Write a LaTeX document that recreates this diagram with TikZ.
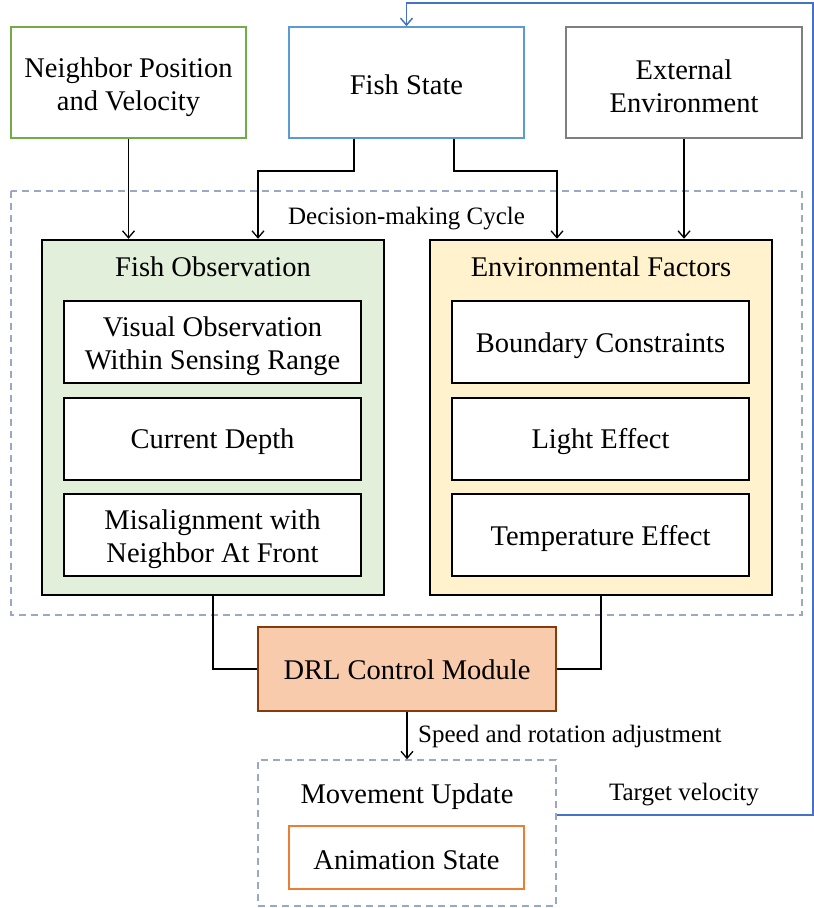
\documentclass[tikz,border=0pt]{standalone}
\usepackage{fontspec}
\setmainfont{Liberation Serif}
\newfontfamily\tnr{Liberation Serif}
\usetikzlibrary{arrows.meta}
\definecolor{cgreen}{HTML}{70AD47}
\definecolor{cblue}{HTML}{5B9BD5}
\definecolor{cline}{HTML}{4472C4}
\definecolor{cgray}{HTML}{7F7F7F}
\definecolor{fgreen}{HTML}{E2EFDA}
\definecolor{fyellow}{HTML}{FFF2CC}
\definecolor{fdrl}{HTML}{F8CBAD}
\definecolor{cdrl}{HTML}{843C0C}
\definecolor{corange}{HTML}{ED7D31}
\definecolor{cdash}{HTML}{9AA8C4}
\tikzset{
  big/.style={font=\tnr\fontsize{28.5}{33}\selectfont, align=center, inner sep=0pt},
  small/.style={font=\tnr\fontsize{25}{30}\selectfont, inner sep=0pt},
  topbox/.style={draw, line width=1.5pt, minimum width=235pt, minimum height=111pt, inner sep=0pt},
  groupbox/.style={draw=black, line width=2.5pt, minimum width=342pt, minimum height=355pt, inner sep=0pt},
  itembox/.style={draw=black, line width=2pt, fill=white, minimum width=297pt, minimum height=82pt, inner sep=0pt},
  dashbox/.style={draw=cdash, line width=1.5pt, dash pattern=on 7pt off 5pt},
  conn/.style={line width=1.3pt, -{Straight Barb[length=7pt,width=12pt]}},
  plain/.style={line width=1.3pt},
}
\begin{document}
\begin{tikzpicture}[x=1pt,y=-1pt]
\useasboundingbox (0,0) rectangle (814,908);
% top boxes
\node[topbox, draw=cgreen] (nb) at (128.5,82.5) {};
\node[big] (nbT) at ([yshift=-5pt]nb.center) {Neighbor Position\\and Velocity};
\node[topbox, draw=cblue] (fs) at (406.5,82.5) {};
\node[big] (fsT) at ([yshift=-2pt]fs.center) {Fish State};
\node[topbox, draw=cgray, minimum width=236pt] (ext) at (684,82.5) {};
\node[big] (extT) at ([yshift=-4pt]ext.center) {External\\Environment};
% decision cycle
\draw[dashbox] (11,191) rectangle (802,615);
\node[small] (dmc) at (406.5,219) {Decision-making Cycle};
% groups
\node[groupbox, fill=fgreen] (fo) at (213,417.5) {};
\node[groupbox, fill=fyellow] (ef) at (601,417.5) {};
\node[big] (fot) at (213,267) {Fish Observation};
\node[big] (eft) at (601,267) {Environmental Factors};
\node[itembox] (l1) at (212.5,342) {};
\node[big] (l1T) at ([yshift=-4pt]l1.center) {Visual Observation\\Within Sensing Range};
\node[itembox] (l2) at (212.5,438.5) {};
\node[big] (l2T) at ([yshift=-3pt]l2.center) {Current Depth};
\node[itembox] (l3) at (212.5,535) {};
\node[big] (l3T) at ([yshift=-4pt]l3.center) {Misalignment with\\Neighbor At Front};
\node[itembox] (r1) at (600.5,342) {};
\node[big] (r1T) at ([yshift=-4pt]r1.center) {Boundary Constraints};
\node[itembox] (r2) at (600.5,438.5) {};
\node[big] (r2T) at ([yshift=-3pt]r2.center) {Light Effect};
\node[itembox] (r3) at (600.5,535) {};
\node[big] (r3T) at ([yshift=-3pt]r3.center) {Temperature Effect};
% DRL
\node[draw=cdrl, fill=fdrl, line width=1.5pt, minimum width=298pt, minimum height=84pt, inner sep=0pt] (drl) at (407,669) {};
\node[big] (drlT) at ([yshift=-1pt]drl.center) {DRL Control Module};
% movement update
\node[dashbox, minimum width=298pt, minimum height=146pt, inner sep=0pt] (mu) at (407,833) {};
\node[big] (mut) at (407,797) {Movement Update};
\node[draw=corange, line width=1.5pt, minimum width=235pt, minimum height=63pt, inner sep=0pt] (an) at (406.5,857.5) {};
\node[big] (anT) at ([yshift=-3pt]an.center) {Animation State};
% connectors
\draw[conn] (fs.south -| 354,0) -- (354,171) -- (258,171) -- (258,0 |- fo.north);
\draw[conn] (nb.south) -- (nb.south |- fo.north);
\draw[conn] (fs.south -| 454,0) -- (454,171) -- (557,171) -- (557,0 |- ef.north);
\draw[conn] (ext.south) -- (ext.south |- ef.north);
\draw[plain] (fo.south) -- (213,669) -- (drl.west);
\draw[plain] (ef.south) -- (601,669) -- (drl.east);
\draw[conn] (drl.south) -- (mu.north);
\node[small, anchor=west] (spd) at (418,736) {Speed and rotation adjustment};
\coordinate (cr) at (813,815);
\coordinate (ctop) at (813,3);
\draw[line width=1.5pt, draw=cline, -{Straight Barb[length=7pt,width=12pt]}] (mu.east |- cr) -- (cr) -- (ctop) -- (fs.north |- ctop) -- (fs.north);
\node[small] (tv) at (684,795) {Target velocity};
\end{tikzpicture}
\end{document}
